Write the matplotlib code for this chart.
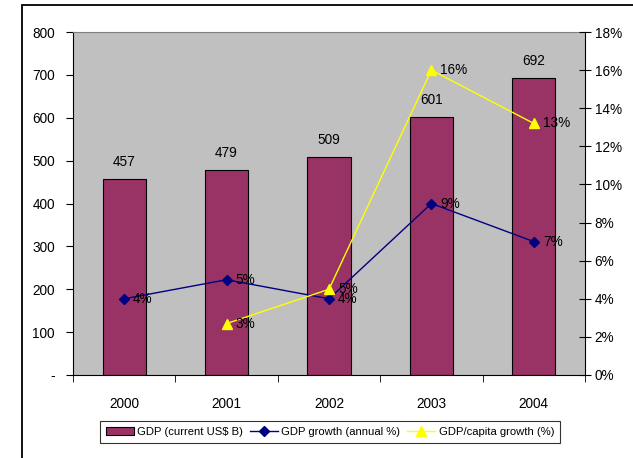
import matplotlib
matplotlib.use("Agg")
import matplotlib.pyplot as plt
from matplotlib.patches import Rectangle
import numpy as np

years = ["2000", "2001", "2002", "2003", "2004"]
gdp = [457, 479, 509, 601, 692]
gdp_growth = [4.0, 5.0, 4.0, 9.0, 7.0]
cap_years = ["2001", "2002", "2003", "2004"]
cap_growth = [2.7, 4.5, 16.0, 13.2]
left_ticks = [0, 100, 200, 300, 400, 500, 600, 700, 800]
left_labels = ["-", "100", "200", "300", "400", "500", "600", "700", "800"]
right_ticks = [0, 2, 4, 6, 8, 10, 12, 14, 16, 18]

plt.rcParams['font.family'] = ["Liberation Sans", "DejaVu Sans"]
FS = 9.8

fig = plt.figure(figsize=(6.33, 4.58), dpi=100)
fig.patches.append(Rectangle((22/633, -0.2), 1.2, 0.2 + 1 - 5/458, transform=fig.transFigure,
                             fill=False, edgecolor="#000000", linewidth=1.3))

ax = fig.add_axes([73/633, 1 - 375/458, (585-73)/633, (375-32)/458])
ax.set_facecolor("#C0C0C0")
x = np.arange(len(years))
ax.bar(x, gdp, width=0.42, color="#993366", edgecolor="black", linewidth=0.8, zorder=2)
for xi, v in zip(x, gdp):
    ax.annotate(str(v), (xi, v), xytext=(0, 10), textcoords="offset pixels",
                ha="center", va="bottom", fontsize=FS)
ax.set_xlim(-0.5, len(years) - 0.5)
ax.set_ylim(0, 800)
ax.set_yticks(left_ticks)
ax.set_yticklabels(left_labels, fontsize=FS)
ax.set_xticks(x)
ax.set_xticklabels(years, fontsize=FS)
ax.tick_params(axis="x", length=0, pad=16)
ax.set_xticks(np.arange(-0.5, len(years), 1.0), minor=True)
ax.tick_params(axis="x", which="minor", length=5, color="black", direction="out")
ax.tick_params(axis="y", length=5, pad=8, color="black", direction="out")
for s in ["left", "bottom", "right"]:
    ax.spines[s].set_color("black")
ax.spines["top"].set_color("#808080")

ax2 = ax.twinx()
ax2.set_ylim(0, 18)
ax2.set_yticks(right_ticks)
ax2.set_yticklabels([f"{t}%" for t in right_ticks], fontsize=FS)
ax2.tick_params(axis="y", length=8, direction="inout", pad=3, color="black")
for s in ax2.spines.values():
    s.set_visible(False)

l1, = ax2.plot(x, gdp_growth, color="#000080", marker="D", markersize=5, linewidth=1, zorder=3)
cx = [years.index(y) for y in cap_years]
l2, = ax2.plot(cx, cap_growth, color="#FFFF00", marker="^", markersize=7, linewidth=1, zorder=3)
for xi, v in zip(x, gdp_growth):
    ax2.annotate(f"{v:.0f}%", (xi, v), xytext=(9, 0), textcoords="offset pixels",
                 ha="left", va="center", fontsize=FS)
for xi, v in zip(cx, cap_growth):
    ax2.annotate(f"{int(v + 0.5)}%", (xi, v), xytext=(9, 0), textcoords="offset pixels",
                 ha="left", va="center", fontsize=FS)

h0 = Rectangle((0, 0), 1, 1, facecolor="#993366", edgecolor="black", linewidth=0.8)
leg = fig.legend([h0, l1, l2], ["GDP (current US$ B)", "GDP growth (annual %)", "GDP/capita growth (%)"],
                 loc="center", bbox_to_anchor=(330/633, 1 - 432/458), ncol=3, frameon=True,
                 fancybox=False, edgecolor="black", fontsize=8.1, handlelength=2.5,
                 handleheight=0.6, handletextpad=0.3, columnspacing=0.6, borderpad=0.55,
                 borderaxespad=0)
leg.get_frame().set_linewidth(0.8)

fig.savefig("out.png", dpi=100)
